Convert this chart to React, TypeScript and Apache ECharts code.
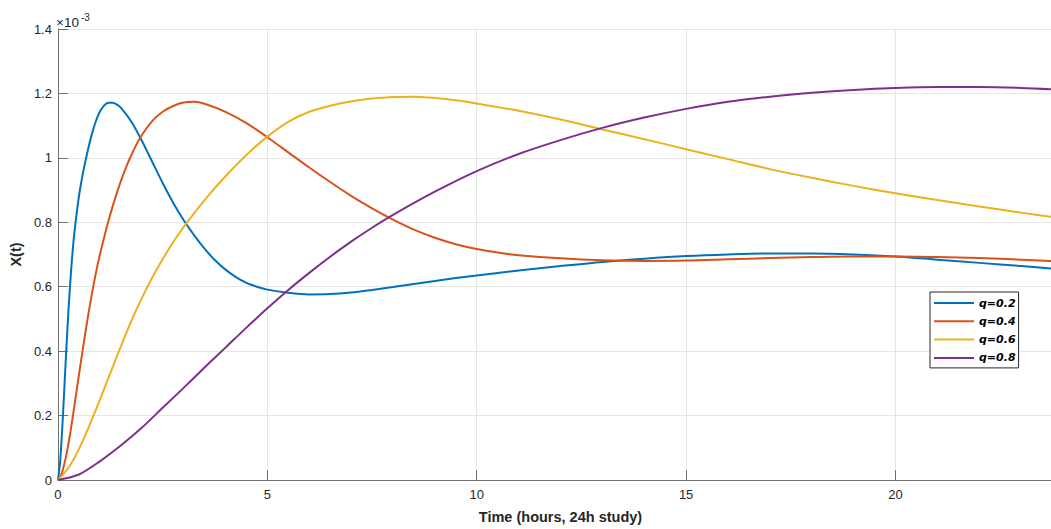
import React, { useEffect, useRef } from "react";
import * as echarts from "echarts";

// Values are in units of 1e-3 (the y axis shows a x10^-3 multiplier)
const seriesNames = ["q=0.2", "q=0.4", "q=0.6", "q=0.8"];
const seriesColors = ["#0072BD", "#D95319", "#EDB120", "#7E2F8E"];

const tQ02 = [0, 0.05, 0.1, 0.15, 0.2, 0.25, 0.3, 0.35, 0.4, 0.5, 0.6, 0.7, 0.8, 0.9, 1.0, 1.1, 1.2, 1.3, 1.4, 1.5, 1.75, 2.0, 2.25, 2.5, 2.75, 3.0, 3.25, 3.5, 3.75, 4.0, 4.25, 4.5, 4.75, 5.0, 5.5, 6.0, 6.5, 7.0, 7.5, 8.0, 9, 10, 11, 12, 13, 14, 15, 16, 17, 18, 19, 20, 21, 22, 23, 24];
const vQ02 = [0, 0.055, 0.155, 0.28, 0.407, 0.525, 0.626, 0.71, 0.777, 0.88, 0.955, 1.016, 1.069, 1.112, 1.143, 1.162, 1.171, 1.171, 1.166, 1.156, 1.113, 1.054, 0.988, 0.922, 0.861, 0.807, 0.76, 0.718, 0.682, 0.653, 0.63, 0.612, 0.6, 0.591, 0.581, 0.576, 0.577, 0.582, 0.59, 0.599, 0.618, 0.635, 0.65, 0.664, 0.677, 0.687, 0.695, 0.7, 0.703, 0.703, 0.7, 0.694, 0.684, 0.674, 0.664, 0.654];

const tQ04 = [0, 0.1, 0.2, 0.3, 0.4, 0.5, 0.6, 0.7, 0.8, 0.9, 1.0, 1.2, 1.4, 1.6, 1.8, 2.0, 2.25, 2.5, 2.75, 3.0, 3.25, 3.5, 4.0, 4.5, 5.0, 5.5, 6.0, 6.5, 7.0, 7.5, 8.0, 8.5, 9.0, 9.5, 10, 10.5, 11, 12, 13, 14, 15, 16, 17, 18, 19, 20, 21, 22, 23, 24];
const vQ04 = [0, 0.025, 0.078, 0.151, 0.237, 0.326, 0.412, 0.495, 0.571, 0.639, 0.699, 0.802, 0.889, 0.962, 1.022, 1.07, 1.114, 1.143, 1.161, 1.172, 1.174, 1.168, 1.143, 1.108, 1.064, 1.017, 0.97, 0.925, 0.882, 0.843, 0.808, 0.777, 0.752, 0.732, 0.717, 0.706, 0.698, 0.688, 0.682, 0.68, 0.681, 0.685, 0.689, 0.692, 0.694, 0.694, 0.692, 0.689, 0.684, 0.678];

const tQ06 = [0, 0.25, 0.5, 0.75, 1.0, 1.25, 1.5, 1.75, 2.0, 2.25, 2.5, 2.75, 3.0, 3.5, 4.0, 4.5, 5.0, 5.5, 6.0, 6.5, 7.0, 7.5, 8.0, 8.5, 9.0, 9.5, 10, 11, 12, 13, 14, 15, 16, 17, 18, 19, 20, 21, 22, 23, 24];
const vQ06 = [0, 0.038, 0.096, 0.169, 0.249, 0.332, 0.414, 0.493, 0.564, 0.628, 0.685, 0.738, 0.785, 0.869, 0.943, 1.009, 1.066, 1.112, 1.143, 1.162, 1.175, 1.184, 1.189, 1.19, 1.186, 1.179, 1.169, 1.146, 1.119, 1.088, 1.058, 1.027, 0.996, 0.965, 0.938, 0.913, 0.89, 0.869, 0.849, 0.83, 0.812];

const tQ08 = [0, 0.5, 1.0, 1.5, 2.0, 2.5, 3.0, 3.5, 4.0, 4.5, 5.0, 5.5, 6.0, 6.5, 7.0, 7.5, 8.0, 9, 10, 11, 12, 13, 14, 15, 16, 17, 18, 19, 20, 21, 22, 23, 24];
const vQ08 = [0, 0.017, 0.058, 0.107, 0.162, 0.224, 0.286, 0.349, 0.411, 0.473, 0.533, 0.59, 0.643, 0.693, 0.74, 0.783, 0.823, 0.895, 0.959, 1.012, 1.055, 1.093, 1.125, 1.152, 1.174, 1.19, 1.202, 1.211, 1.217, 1.22, 1.22, 1.217, 1.211];

const seriesTimes = [tQ02, tQ04, tQ06, tQ08];
const seriesValues = [vQ02, vQ04, vQ06, vQ08];

const xTitle = "Time (hours, 24h study)";
const yTitle = "X(t)";
const yExponentBase = "\u00d710";
const yExponent = "-3";

export default function App() {
  const ref = useRef<HTMLDivElement>(null);
  useEffect(() => {
    const chart = echarts.init(ref.current!, null, { renderer: "svg" });
    const axisColor = "#707070";
    const textColor = "#262626";
    const font = "'Liberation Sans', Arial, sans-serif";
    chart.setOption({
      animation: false,
      backgroundColor: "#ffffff",
      grid: { left: 55, right: 3, top: 29, bottom: 45, containLabel: false },
      xAxis: {
        type: "value",
        min: 0,
        max: 24,
        interval: 5,
        name: xTitle,
        nameLocation: "middle",
        nameGap: 29,
        nameTextStyle: { fontSize: 14.5, fontWeight: "bold", color: textColor, fontFamily: font },
        axisLine: { show: true, onZero: false, lineStyle: { color: axisColor, width: 1 } },
        axisTick: { show: true, inside: true, length: 10, lineStyle: { color: axisColor } },
        axisLabel: { show: true, margin: 8, fontSize: 13, color: textColor, fontFamily: font, showMaxLabel: false },
        splitLine: { show: true, lineStyle: { color: "#e6e6e6", width: 1 } },
      },
      yAxis: {
        type: "value",
        min: 0,
        max: 1.4,
        interval: 0.2,
        name: yTitle,
        nameLocation: "middle",
        nameGap: 30,
        nameRotate: 90,
        nameTextStyle: { fontSize: 14.5, fontWeight: "bold", color: textColor, fontFamily: font },
        axisLine: { show: true, lineStyle: { color: axisColor, width: 1 } },
        axisTick: { show: true, inside: true, length: 10, lineStyle: { color: axisColor } },
        axisLabel: {
          margin: 6,
          fontSize: 13,
          color: textColor,
          fontFamily: font,
          formatter: (v: number) => {
            const r = Math.round(v * 10) / 10;
            return Number.isInteger(r) ? String(r) : r.toFixed(1);
          },
        },
        splitLine: { show: true, lineStyle: { color: "#e6e6e6", width: 1 } },
      },
      legend: {
        show: true,
        orient: "vertical",
        left: 930,
        top: 292,
        icon: "rect",
        itemWidth: 40,
        itemHeight: 2,
        itemGap: 4.3,
        padding: [4, 3, 3, 4],
        backgroundColor: "#ffffff",
        borderColor: "#262626",
        borderWidth: 1,
        borderRadius: 0,
        data: seriesNames,
        textStyle: {
          fontFamily: "'DejaVu Sans', sans-serif",
          fontSize: 11,
          fontWeight: "bold",
          fontStyle: "italic",
          color: "#000000",
          lineHeight: 14,
        },
      },
      graphic: [
        {
          type: "text",
          left: 56,
          top: 15,
          style: { text: yExponentBase, fontSize: 13.5, fill: textColor, fontFamily: font },
        },
        {
          type: "text",
          left: 81,
          top: 12,
          style: { text: yExponent, fontSize: 10, fill: textColor, fontFamily: font },
        },
      ],
      series: seriesNames.map((name, i) => ({
        name,
        type: "line",
        data: seriesTimes[i].map((t, j) => [t, seriesValues[i][j]]),
        showSymbol: false,
        symbol: "none",
        smooth: 0.3,
        clip: true,
        lineStyle: { color: seriesColors[i], width: 2 },
        itemStyle: { color: seriesColors[i] },
      })),
    });
    return () => chart.dispose();
  }, []);
  return (
    <div style={{ position: "fixed", left: 0, top: 0, width: 1051, height: 529, overflow: "hidden", background: "#fff" }}>
      <div ref={ref} style={{ width: 1066, height: 529 }} />
    </div>
  );
}
